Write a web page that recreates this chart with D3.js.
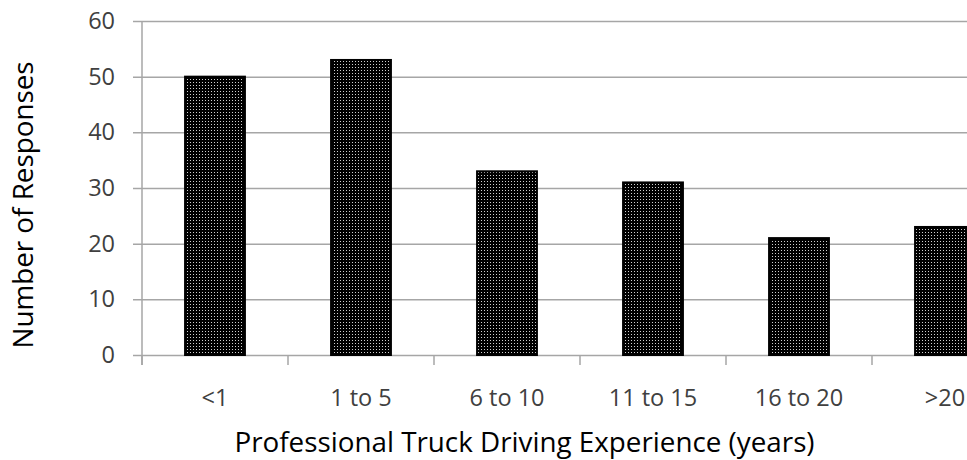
<!DOCTYPE html>
<html>
<head>
<meta charset="utf-8">
<script src="https://cdn.jsdelivr.net/npm/d3@7"></script>
<style>
  html, body { margin: 0; padding: 0; background: #fff; }
  svg { display: block; font-family: "Open Sans", sans-serif; }
</style>
</head>
<body>
<svg id="chart" width="967" height="460"></svg>
<script>
const categories = ["<1", "1 to 5", "6 to 10", "11 to 15", "16 to 20", ">20"];
const values = [50, 53, 33, 31, 21, 23];
const yTicks = [0, 10, 20, 30, 40, 50, 60];
const xTitle = "Professional Truck Driving Experience (years)";
const yTitle = "Number of Responses";

(function () {
const svg = d3.select("#chart");
const W = 967, H = 460;
const mLeft = 142, mRight = 1018, mTop = 21, mBottom = 355;

const x = d3.scaleBand().domain(categories).range([mLeft, mRight])
  .paddingInner(0.59).paddingOuter(0.295);
const y = d3.scaleLinear().domain([0, 60]).range([mBottom, mTop]);

// pattern
const defs = svg.append("defs");
const pat = defs.append("pattern").attr("id", "dots")
  .attr("patternUnits", "userSpaceOnUse").attr("width", 3).attr("height", 3);
pat.append("rect").attr("width", 3).attr("height", 3).attr("fill", "#000");
pat.append("rect").attr("x", 1).attr("y", 1).attr("width", 1).attr("height", 1).attr("fill", "#d0d0d0");

// gridlines
const gridAxis = d3.axisLeft(y).tickValues(yTicks).tickSize(-(W - mLeft)).tickFormat("");
const gg = svg.append("g").attr("transform", `translate(${mLeft},0)`).call(gridAxis);
gg.select(".domain").remove();
gg.selectAll(".tick line").attr("stroke", "#a6a6a6").attr("stroke-width", 1.5).attr("x1", -9);

// y labels
const yAxis = d3.axisLeft(y).tickValues(yTicks).tickSize(0).tickPadding(27);
const ya = svg.append("g").attr("transform", `translate(${mLeft},0)`).call(yAxis);
ya.select(".domain").remove();
ya.selectAll("text").attr("font-family", "Open Sans").attr("font-size", 23.5).attr("fill", "#404040");

// y axis line
svg.append("line").attr("x1", mLeft).attr("x2", mLeft).attr("y1", mTop).attr("y2", mBottom + 10)
  .attr("stroke", "#a6a6a6").attr("stroke-width", 1.5);

// x boundary ticks
const bounds = d3.range(categories.length + 1).map(i => mLeft + i * x.step());
svg.selectAll(".xt").data(bounds).join("line").attr("class", "xt")
  .attr("x1", d => d).attr("x2", d => d).attr("y1", mBottom).attr("y2", mBottom + 10)
  .attr("stroke", "#a6a6a6").attr("stroke-width", 1.5);

// bars
svg.selectAll(".bar").data(values).join("rect").attr("class", "bar")
  .attr("x", (d, i) => x(categories[i]))
  .attr("y", d => y(d))
  .attr("width", x.bandwidth())
  .attr("height", d => y(0) - y(d))
  .attr("fill", "url(#dots)")
  .attr("stroke", "#000").attr("stroke-width", 2);

// x labels
svg.selectAll(".xl").data(categories).join("text").attr("class", "xl")
  .attr("x", d => x(d) + x.bandwidth() / 2).attr("y", 406)
  .attr("text-anchor", "middle").attr("font-size", 23.5).attr("fill", "#404040")
  .text(d => d);

// titles
svg.append("text").attr("x", 524.5).attr("y", 452).attr("text-anchor", "middle")
  .attr("font-size", 27.8).attr("fill", "#000").text(xTitle);
svg.append("text").attr("transform", "translate(33,205) rotate(-90)").attr("text-anchor", "middle")
  .attr("font-size", 27.8).attr("fill", "#000").text(yTitle);
})();
</script>
</body>
</html>
